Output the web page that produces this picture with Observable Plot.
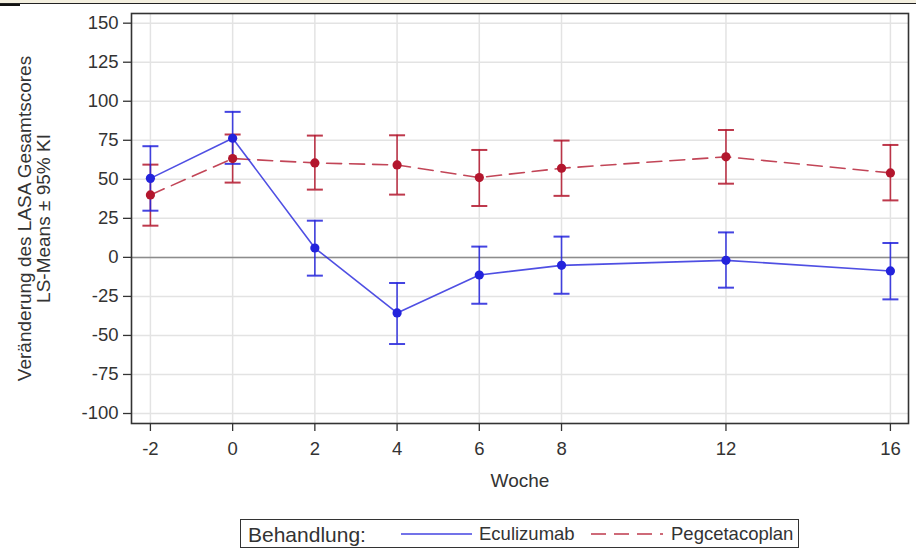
<!DOCTYPE html>
<html>
<head>
<meta charset="utf-8">
<script src="https://cdn.jsdelivr.net/npm/d3@7"></script>
<script src="https://cdn.jsdelivr.net/npm/@observablehq/plot@0.6"></script>
<style>
  html, body { margin: 0; padding: 0; background: #fff; }
  #wrap { position: relative; width: 916px; height: 552px; overflow: hidden; font-family: "Liberation Sans", Arial, sans-serif; color: #333; }
  #chart { position: absolute; left: 0; top: 0; }
  #strip { position: absolute; left: 0; top: 0; width: 916px; height: 3px; background: #f3efdf; border-bottom: 1.5px solid #222; }
  #stripmark { position: absolute; left: 0; top: 4px; width: 20px; height: 2px; background: #111; }
  #legend { position: absolute; left: 240px; top: 519px; width: 557px; height: 27px; border: 1.5px solid #333; box-sizing: content-box; }
  .lg { position: absolute; white-space: nowrap; line-height: 1; }
</style>
</head>
<body>
<div id="wrap">
  <div id="chart"></div>
  <div id="strip"></div>
  <div id="stripmark"></div>
  <div id="legend"></div>
</div>
<script>
// ---- data ----
const weeks = [-2, 0, 2, 4, 6, 8, 12, 16];
const yTicks = [-100, -75, -50, -25, 0, 25, 50, 75, 100, 125, 150];
const seriesNames = ["Eculizumab", "Pegcetacoplan"];
const eculizumabMean  = [50.6, 76.3, 6.0, -35.6, -11.3, -5.1, -1.9, -8.7];
const eculizumabLower = [29.9, 59.9, -11.7, -55.5, -29.7, -23.3, -19.4, -26.9];
const eculizumabUpper = [71.2, 93.2, 23.5, -16.4, 6.9, 13.3, 16.0, 9.2];
const pegcetacoplanMean  = [40.0, 63.3, 60.5, 59.2, 51.1, 57.1, 64.4, 54.1];
const pegcetacoplanLower = [20.3, 47.9, 43.4, 40.2, 32.9, 39.4, 47.2, 36.5];
const pegcetacoplanUpper = [59.4, 78.7, 78.0, 78.2, 68.8, 74.8, 81.6, 72.0];
const yLabel = "Veränderung des LASA Gesamtscores\nLS-Means ± 95% KI";
const xLabel = "Woche";
const legendTitle = "Behandlung:";

const blue = "#2323dc";
const red = "#b3162d";

const ecu = weeks.map((w, i) => ({week: w, mean: eculizumabMean[i], lower: eculizumabLower[i], upper: eculizumabUpper[i]}));
const peg = weeks.map((w, i) => ({week: w, mean: pegcetacoplanMean[i], lower: pegcetacoplanLower[i], upper: pegcetacoplanUpper[i]}));

// horizontal cap symbol (fixed pixel width)
const capSymbol = {
  draw(ctx, size) {
    const w = Math.sqrt(size / Math.PI);
    ctx.moveTo(-w, 0);
    ctx.lineTo(w, 0);
  }
};

function errorMarks(data, color) {
  return [
    Plot.ruleX(data, {x: "week", y1: "lower", y2: "upper", stroke: color, strokeWidth: 1.6, strokeOpacity: 0.85}),
    Plot.dot(data, {x: "week", y: "lower", symbol: capSymbol, r: 8, fill: "none", stroke: color, strokeWidth: 2, strokeOpacity: 0.85}),
    Plot.dot(data, {x: "week", y: "upper", symbol: capSymbol, r: 8, fill: "none", stroke: color, strokeWidth: 2, strokeOpacity: 0.85})
  ];
}

const fmt = d => String(d);

const chart = Plot.plot({
  width: 916,
  height: 510,
  marginLeft: 131,
  marginRight: 8,
  marginTop: 13,
  marginBottom: 87,
  style: {fontFamily: "'Liberation Sans', Arial, sans-serif", fontSize: "18.5px", color: "#333", background: "transparent"},
  x: {domain: [-2.46, 16.44]},
  y: {domain: [-106.4, 156.2]},
  marks: [
    Plot.gridX(weeks, {stroke: "#e3e3e3", strokeOpacity: 1, strokeWidth: 1.5}),
    Plot.gridY(yTicks, {stroke: "#e3e3e3", strokeOpacity: 1, strokeWidth: 1.5}),
    Plot.ruleY([0], {stroke: "#8c8c8c", strokeWidth: 1.5}),
    Plot.axisX(weeks, {tickSize: 8, tickPadding: 10, tickFormat: fmt, label: null, stroke: "#333", strokeWidth: 1.3, fill: "#333"}),
    Plot.axisY(yTicks, {tickSize: 8, tickPadding: 5, tickFormat: fmt, label: null, stroke: "#333", strokeWidth: 1.3, fill: "#333"}),
    ...errorMarks(peg, red),
    ...errorMarks(ecu, blue),
    Plot.line(peg, {x: "week", y: "mean", stroke: red, strokeWidth: 1.6, strokeOpacity: 0.8, strokeDasharray: "15,8"}),
    Plot.line(ecu, {x: "week", y: "mean", stroke: blue, strokeWidth: 1.6, strokeOpacity: 0.8}),
    Plot.dot(peg, {x: "week", y: "mean", r: 4.6, fill: red}),
    Plot.dot(ecu, {x: "week", y: "mean", r: 4.6, fill: blue}),
    Plot.frame({stroke: "#333", strokeWidth: 1.6}),
    Plot.text([xLabel], {text: d => d, frameAnchor: "bottom", dy: 63, fontSize: 19, fill: "#333"}),
    Plot.text([yLabel], {text: d => d, frameAnchor: "left", textAnchor: "middle", rotate: -90, dx: -97, fontSize: 19, lineHeight: 0.98, fill: "#333"})
  ]
});
document.getElementById("chart").appendChild(chart);

// ---- legend (HTML) ----
const legend = document.getElementById("legend");
const ns = "http://www.w3.org/2000/svg";
function addText(txt, left, size) {
  const s = document.createElement("span");
  s.className = "lg";
  s.textContent = txt;
  s.style.left = left + "px";
  s.style.top = "50%";
  s.style.transform = "translateY(-50%)";
  s.style.fontSize = size + "px";
  legend.appendChild(s);
}
function addSwatch(left, width, color, dash) {
  const svg = document.createElementNS(ns, "svg");
  svg.setAttribute("width", width);
  svg.setAttribute("height", 6);
  svg.style.position = "absolute";
  svg.style.left = left + "px";
  svg.style.top = "11px";
  const l = document.createElementNS(ns, "line");
  l.setAttribute("x1", 0); l.setAttribute("x2", width);
  l.setAttribute("y1", 3); l.setAttribute("y2", 3);
  l.setAttribute("stroke", color);
  l.setAttribute("stroke-width", 1.6);
  l.setAttribute("stroke-opacity", 0.85);
  if (dash) l.setAttribute("stroke-dasharray", dash);
  svg.appendChild(l);
  legend.appendChild(svg);
}
addText(legendTitle, 7, 21);
addSwatch(160, 71, blue, null);
addText(seriesNames[0], 238, 18.5);
addSwatch(350, 72, red, "15,8");
addText(seriesNames[1], 430, 18.5);
</script>
</body>
</html>
